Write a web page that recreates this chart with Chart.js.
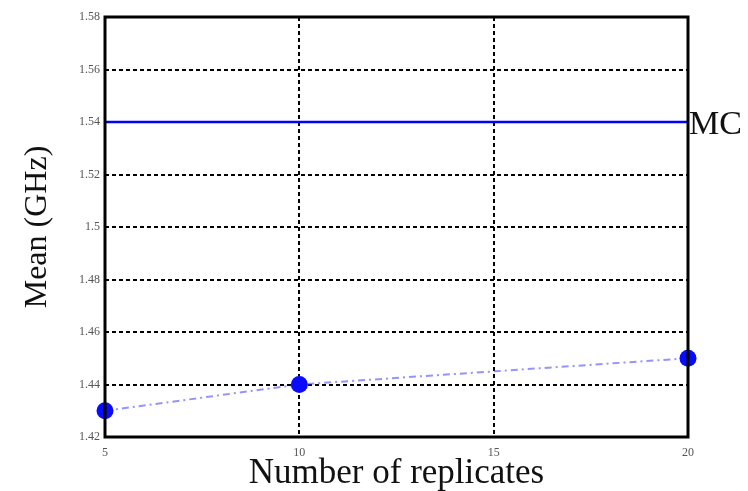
<!DOCTYPE html>
<html>
<head>
<meta charset="utf-8">
<script src="https://cdn.jsdelivr.net/npm/chart.js@4/dist/chart.umd.min.js"></script>
<style>
html,body{margin:0;padding:0;background:#fff;}
#wrap{width:748px;height:491px;position:relative;}
</style>
</head>
<body>
<div id="wrap"><canvas id="c" width="748" height="491"></canvas></div>
<script>
const replicates = [5, 10, 20];
const meanValues = [1.43, 1.44, 1.45];
const mcValue = 1.54;
const mcLabel = "MC";
const yTickLabels = ["1.42","1.44","1.46","1.48","1.5","1.52","1.54","1.56","1.58"];
const xTickLabels = ["5","10","15","20"];
const xTitle = "Number of replicates";
const yTitle = "Mean (GHz)";

const borderPlugin = {
  id: 'borderPlugin',
  afterDraw(chart) {
    const {ctx, chartArea: a, scales} = chart;
    ctx.save();
    ctx.strokeStyle = '#000';
    ctx.lineWidth = 3;
    ctx.strokeRect(a.left, a.top, a.right - a.left, a.bottom - a.top);
    const y = scales.y.getPixelForValue(mcValue);
    ctx.fillStyle = '#111';
    ctx.font = '34px "Liberation Serif", "DejaVu Serif", serif';
    ctx.textBaseline = 'middle';
    ctx.textAlign = 'left';
    ctx.fillText(mcLabel, a.right + 1, y + 3);
    ctx.restore();
  }
};

new Chart(document.getElementById('c'), {
  type: 'scatter',
  data: {
    datasets: [
      {
        label: 'MC',
        data: [{x: 5, y: mcValue}, {x: 20, y: mcValue}],
        showLine: true,
        borderColor: '#0000ff',
        borderWidth: 2.5,
        pointRadius: 0,
        clip: false,
        order: 2
      },
      {
        label: 'Mean',
        data: replicates.map((r, i) => ({x: r, y: meanValues[i]})),
        showLine: true,
        borderColor: 'rgba(60,60,255,0.55)',
        borderWidth: 2,
        borderDash: [7, 4, 2, 4],
        pointRadius: 8.5,
        pointBackgroundColor: '#0a0aff',
        pointBorderColor: '#0a0aff',
        pointBorderWidth: 0,
        clip: false,
        order: 1
      }
    ]
  },
  options: {
    responsive: false,
    animation: false,
    devicePixelRatio: 1,
    layout: {padding: {left: 10, right: 60, top: 17, bottom: 0}},
    plugins: {legend: {display: false}, tooltip: {enabled: false}},
    scales: {
      x: {
        type: 'linear', min: 5, max: 20,
        afterBuildTicks(s) { s.ticks = xTickLabels.map(v => ({value: Number(v)})); },
        afterFit(s) { s.height = 54; },
        ticks: {
          callback: (v) => String(v),
          font: {family: '"Liberation Serif", serif', size: 12},
          color: '#555', padding: 9, maxRotation: 0
        },
        grid: {color: '#000', lineWidth: 2, drawTicks: false},
        border: {display: false, dash: [4, 3]},
        title: {display: true, text: xTitle, color: '#111',
          font: {family: '"Liberation Serif", serif', size: 35, lineHeight: 1}, padding: {top: 0, bottom: 0}}
      },
      y: {
        type: 'linear', min: 1.42, max: 1.58,
        afterBuildTicks(s) { s.ticks = yTickLabels.map(v => ({value: Number(v)})); },
        afterFit(s) { s.width = 95; },
        ticks: {
          callback: (v) => yTickLabels.find(t => Number(t) === Number(v.toFixed(2))) || '',
          font: {family: '"Liberation Serif", serif', size: 12},
          color: '#555', padding: 5
        },
        grid: {color: '#000', lineWidth: 2, drawTicks: false},
        border: {display: false, dash: [4, 3]},
        title: {display: true, text: yTitle, color: '#111',
          font: {family: '"Liberation Serif", serif', size: 32, lineHeight: 1}, padding: {top: 12, bottom: 0}}
      }
    }
  },
  plugins: [borderPlugin]
});
</script>
</body>
</html>
